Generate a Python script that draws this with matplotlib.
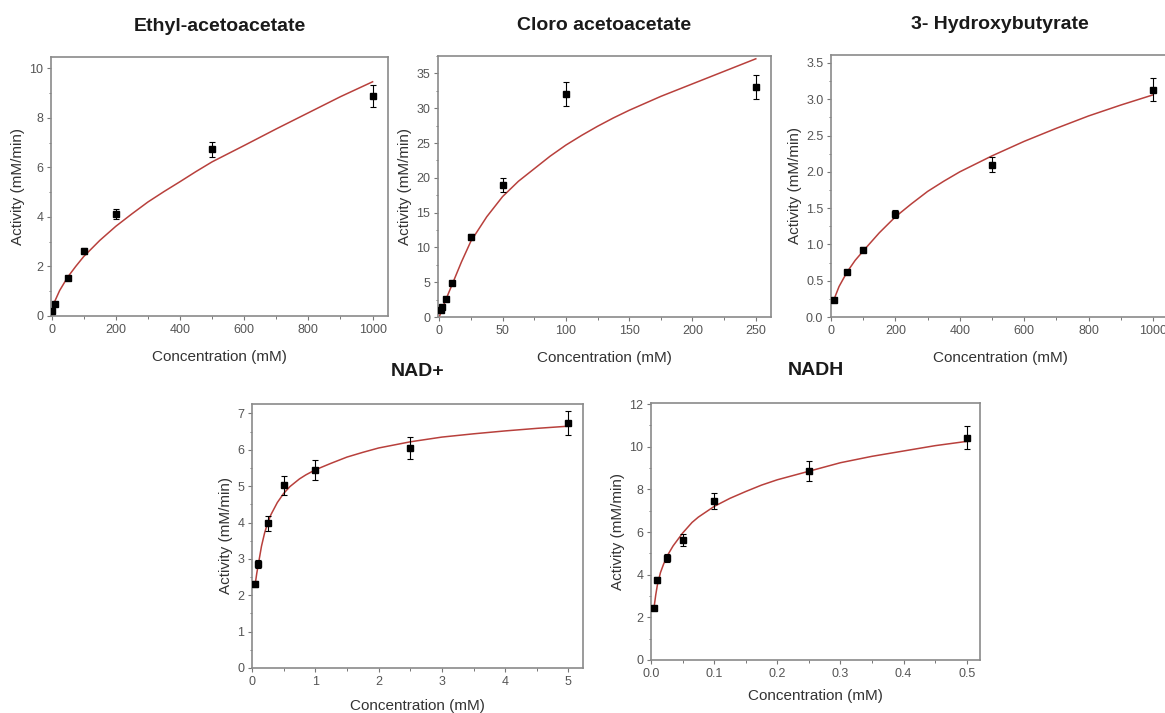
import numpy as np
import matplotlib
matplotlib.use("Agg")
import matplotlib.pyplot as plt
from matplotlib.ticker import MultipleLocator, FormatStrFormatter

plt.rcParams['font.family'] = ['Liberation Sans', 'DejaVu Sans']

# ---- data ----
titles = ["Ethyl-acetoacetate", "Cloro acetoacetate", "3- Hydroxybutyrate", "NAD+", "NADH"]

# Ethyl-acetoacetate
ea_x = [2, 10, 50, 100, 200, 500, 1000]
ea_y = [0.2, 0.5, 1.55, 2.62, 4.13, 6.73, 8.87]
ea_err = [0.05, 0.06, 0.06, 0.12, 0.2, 0.3, 0.45]
ea_fit_x = [0, 2, 5, 10, 25, 50, 75, 100, 150, 200, 250, 300, 350, 400, 450, 500,
            600, 700, 800, 900, 1000]
ea_fit_y = [0.05, 0.23, 0.39, 0.6, 1.03, 1.57, 2.0, 2.4, 3.05, 3.62, 4.12, 4.6, 5.02,
            5.42, 5.83, 6.22, 6.88, 7.55, 8.2, 8.85, 9.45]

# Cloro acetoacetate
ca_x = [1, 2.5, 5, 10, 25, 50, 100, 250]
ca_y = [1.0, 1.5, 2.6, 4.9, 11.5, 18.9, 32.0, 33.0]
ca_err = [0.1, 0.1, 0.15, 0.2, 0.4, 1.0, 1.7, 1.7]
ca_fit_x = [0, 2.5, 5, 10, 17.5, 25, 37.5, 50, 62.5, 75, 87.5, 100, 112.5, 125, 137.5,
            150, 162.5, 175, 187.5, 200, 212.5, 225, 237.5, 250]
ca_fit_y = [0, 1.3, 2.4, 4.6, 7.9, 10.9, 14.4, 17.3, 19.5, 21.3, 23.1, 24.7, 26.1, 27.4,
            28.6, 29.7, 30.7, 31.7, 32.6, 33.5, 34.4, 35.3, 36.2, 37.1]

# 3- Hydroxybutyrate
hb_x = [10, 50, 100, 200, 500, 1000]
hb_y = [0.24, 0.62, 0.93, 1.42, 2.10, 3.13]
hb_err = [0.02, 0.02, 0.03, 0.05, 0.1, 0.16]
hb_fit_x = [10, 25, 50, 75, 100, 150, 200, 250, 300, 350, 400, 450, 500, 600, 700, 800,
            900, 1000]
hb_fit_y = [0.25, 0.42, 0.62, 0.78, 0.91, 1.16, 1.38, 1.56, 1.73, 1.87, 2.0, 2.11, 2.22,
            2.42, 2.6, 2.77, 2.92, 3.06]

# NAD+
nad_x = [0.05, 0.1, 0.25, 0.5, 1, 2.5, 5]
nad_y = [2.31, 2.86, 3.98, 5.02, 5.44, 6.04, 6.74]
nad_err = [0.08, 0.12, 0.2, 0.26, 0.27, 0.3, 0.34]
nad_fit_x = [0.05, 0.075, 0.1, 0.15, 0.2, 0.25, 0.3, 0.4, 0.5, 0.6, 0.75, 0.85, 1, 1.25,
             1.5, 1.75, 2, 2.5, 3, 3.5, 4, 4.5, 5]
nad_fit_y = [2.3, 2.6, 2.85, 3.35, 3.72, 4.0, 4.22, 4.55, 4.8, 4.99, 5.2, 5.31, 5.45, 5.63,
             5.8, 5.93, 6.05, 6.22, 6.35, 6.44, 6.52, 6.59, 6.65]

# NADH
nadh_x = [0.005, 0.01, 0.025, 0.05, 0.1, 0.25, 0.5]
nadh_y = [2.46, 3.76, 4.78, 5.63, 7.44, 8.86, 10.43]
nadh_err = [0.05, 0.15, 0.2, 0.3, 0.37, 0.45, 0.52]
nadh_fit_x = [0.005, 0.0075, 0.01, 0.015, 0.02, 0.025, 0.035, 0.05, 0.065, 0.075, 0.1,
              0.125, 0.15, 0.175, 0.2, 0.25, 0.3, 0.35, 0.4, 0.45, 0.5]
nadh_fit_y = [2.5, 3.05, 3.5, 4.1, 4.5, 4.85, 5.35, 5.95, 6.45, 6.7, 7.2, 7.58, 7.9, 8.2,
              8.45, 8.85, 9.25, 9.55, 9.8, 10.05, 10.25]

W, H = 1165, 713

# panel boxes in pixels: left, top, right, bottom
boxes = [(51, 57, 388, 316), (438, 56, 771, 317), (831, 55, 1169, 317),
         (252, 404, 583, 668), (651, 403, 980, 660)]
xlims = [(-2, 1048), (-1, 262), (0, 1050), (0, 5.23), (0, 0.521)]
ylims = [(0, 10.45), (0, 37.5), (0, 3.61), (0, 7.26), (0, 12.05)]
xsteps = [200, 50, 200, 1, 0.1]
ysteps = [2, 5, 0.5, 1, 2]
xfmt = ["%d", "%d", "%d", "%d", "%.1f"]
yfmt = ["%d", "%d", "%.1f", "%d", "%d"]
xpads = [10, 10, 10, 8, 7]

series = [(ea_x, ea_y, ea_err, ea_fit_x, ea_fit_y),
          (ca_x, ca_y, ca_err, ca_fit_x, ca_fit_y),
          (hb_x, hb_y, hb_err, hb_fit_x, hb_fit_y),
          (nad_x, nad_y, nad_err, nad_fit_x, nad_fit_y),
          (nadh_x, nadh_y, nadh_err, nadh_fit_x, nadh_fit_y)]

fig = plt.figure(figsize=(W / 100, H / 100), dpi=100)

for i, (l, t, r, b) in enumerate(boxes):
    ax = fig.add_axes([l / W, 1 - b / H, (r - l) / W, (b - t) / H])
    x, y, err, fx, fy = series[i]

    ax.plot(fx, fy, color="#b8403c", lw=1.1, zorder=2)
    ax.errorbar(x, y, yerr=err, fmt="s", color="black", ms=4.5, elinewidth=0.8,
                capsize=2, capthick=0.8, zorder=3)

    ax.set_xlim(*xlims[i])
    ax.set_ylim(*ylims[i])
    ax.xaxis.set_major_locator(MultipleLocator(xsteps[i]))
    ax.xaxis.set_minor_locator(MultipleLocator(xsteps[i] / 2))
    ax.yaxis.set_major_locator(MultipleLocator(ysteps[i]))
    ax.yaxis.set_minor_locator(MultipleLocator(ysteps[i] / 2))
    ax.xaxis.set_major_formatter(FormatStrFormatter(xfmt[i]))
    ax.yaxis.set_major_formatter(FormatStrFormatter(yfmt[i]))

    ax.tick_params(which="major", direction="out", length=3, width=0.8,
                   color="#777777", labelsize=9, labelcolor="#555555", pad=2.5)
    ax.tick_params(which="minor", direction="out", length=1.8, width=0.7, color="#777777")
    for s in ax.spines.values():
        s.set_color("#8a8a8a")
        s.set_linewidth(1.2)

    ax.set_xlabel("Concentration (mM)", fontsize=11, color="#333333", labelpad=xpads[i])
    ax.set_ylabel("Activity (mM/min)", fontsize=11, color="#333333", labelpad=3)
    ax.set_title(titles[i], fontsize=14, fontweight="bold", color="#1a1a1a",
                 pad=19 if i < 3 else 20)

fig.savefig("out.png", dpi=100, facecolor="white")
